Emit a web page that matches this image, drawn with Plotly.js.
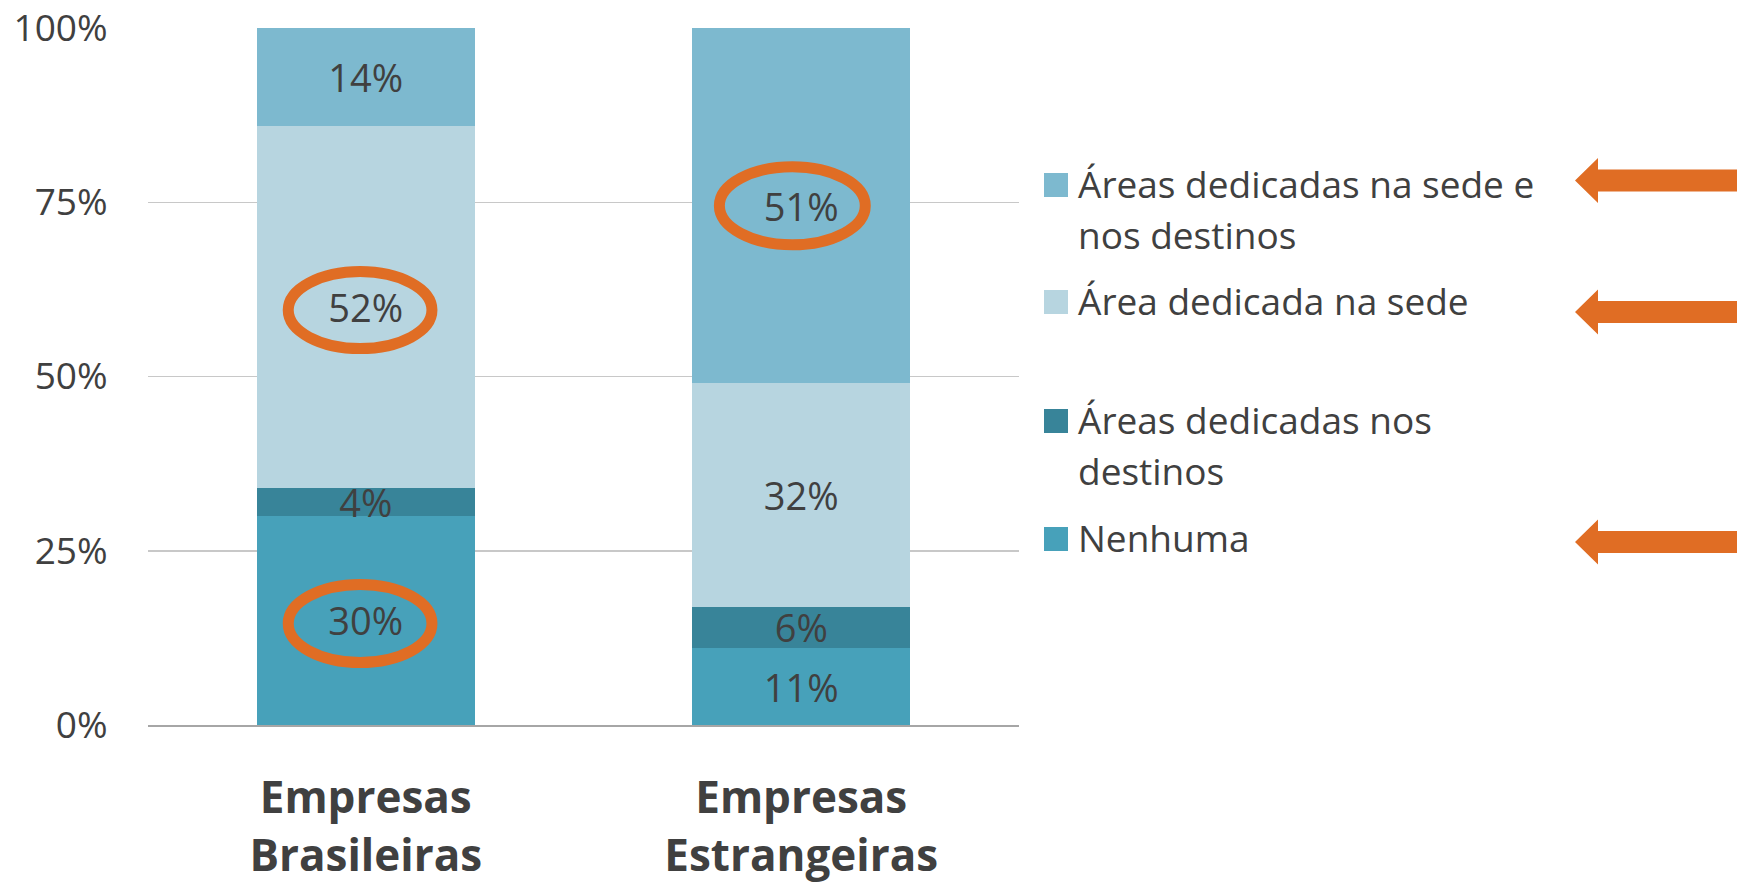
<!DOCTYPE html>
<html>
<head>
<meta charset="utf-8">
<script src="https://cdn.plot.ly/plotly-3.0.1.min.js"></script>
<style>
  html, body { margin: 0; padding: 0; background: #ffffff; }
  #chart { width: 1746px; height: 884px; }
</style>
</head>
<body>
<div id="chart"></div>
<script>
// ---- data ----
const categories = ['Empresas<br>Brasileiras', 'Empresas<br>Estrangeiras'];
const seriesNames = ['Nenhuma', 'Áreas dedicadas nos destinos', 'Área dedicada na sede', 'Áreas dedicadas na sede e nos destinos'];
const legendLines = [['Nenhuma'], ['Áreas dedicadas nos', 'destinos'], ['Área dedicada na sede'], ['Áreas dedicadas na sede e', 'nos destinos']];
const nenhuma = [30, 11];
const destinos = [4, 6];
const sede = [52, 32];
const sedeEDestinos = [14, 51];
const seriesColors = ['#47A1BA', '#388499', '#B7D5E0', '#7DB9CF'];
const yTicks = [0, 25, 50, 75, 100];

// ---- layout helpers (pixel -> paper) ----
const W = 1746, H = 884;
const L = 148, R = 1019, T = 28, B = 725;
const px = x => (x - L) / (R - L);
const py = y => (B - y) / (B - T);
const FONT = '"Open Sans", sans-serif';

const values = [nenhuma, destinos, sede, sedeEDestinos];
const traces = values.map((v, i) => ({
  type: 'bar',
  name: seriesNames[i],
  x: categories,
  y: v,
  marker: { color: seriesColors[i], line: { width: 0 } },
  text: v.map(d => d + '%'),
  textposition: 'inside',
  insidetextanchor: 'middle',
  textangle: 0,
  constraintext: 'none',
  textfont: { family: FONT, size: 38, color: '#404040' },
  hoverinfo: 'skip',
  showlegend: false
}));

// ---- legend (drawn from the series arrays) ----
const legendOrder = [3, 2, 1, 0];          // top to bottom
const itemCenters = [185, 302, 421, 539];  // pixel y of symbol centres
const lineGap = 51;
const shapes = [];
const annotations = [];
legendOrder.forEach((s, k) => {
  const c = itemCenters[k];
  shapes.push({
    type: 'rect', xref: 'paper', yref: 'paper',
    x0: px(1044), x1: px(1068), y0: py(c + 12), y1: py(c - 12),
    fillcolor: seriesColors[s], line: { width: 0 }
  });
  legendLines[s].forEach((txt, j) => {
    annotations.push({
      xref: 'paper', yref: 'paper', x: px(1076), y: py(c - 2 + j * lineGap),
      xanchor: 'left', yanchor: 'middle', showarrow: false, text: txt,
      font: { family: FONT, size: 37, color: '#404040' }
    });
  });
});

// ---- emphasis ellipses ----
const orange = '#E06D24';
[[-0.178, 0.152, 54.0, 65.06], [-0.178, 0.152, 8.97, 20.16], [0.812, 1.147, 68.9, 80.1]].forEach(e => {
  shapes.push({
    type: 'circle', xref: 'x', yref: 'y',
    x0: e[0], x1: e[1], y0: e[2], y1: e[3],
    line: { color: orange, width: 11 }, fillcolor: 'rgba(0,0,0,0)', layer: 'above'
  });
});

// ---- arrows pointing at legend entries ----
[180.5, 312, 542].forEach(c => {
  const pts = [[1575, c], [1598, c - 22.5], [1598, c - 11], [1737, c - 11], [1737, c + 11], [1598, c + 11], [1598, c + 22.5]];
  const d = 'M ' + pts.map(p => px(p[0]) + ',' + py(p[1])).join(' L ') + ' Z';
  shapes.push({ type: 'path', xref: 'paper', yref: 'paper', path: d, fillcolor: orange, line: { width: 0 } });
});

const layout = {
  width: W, height: H,
  margin: { l: L, r: W - R, t: T, b: H - B, pad: 0 },
  paper_bgcolor: '#ffffff', plot_bgcolor: '#ffffff',
  barmode: 'stack',
  bargap: 0.5,
  showlegend: false,
  xaxis: {
    type: 'category',
    showgrid: false,
    showline: true, linecolor: '#A6A6A6', linewidth: 1.5,
    ticks: 'outside', ticklen: 34, tickcolor: 'rgba(0,0,0,0)',
    tickfont: { family: FONT, size: 44, color: '#404040', weight: 'bold' },
    fixedrange: true
  },
  yaxis: {
    range: [0, 100],
    tickvals: yTicks,
    ticktext: yTicks.map(t => t + '%'),
    showgrid: true, gridcolor: '#C8C8C8', gridwidth: 1.5,
    zeroline: false,
    ticks: 'outside', ticklen: 32, tickcolor: 'rgba(0,0,0,0)',
    tickfont: { family: FONT, size: 37, color: '#404040' },
    fixedrange: true
  },
  shapes: shapes,
  annotations: annotations,
  font: { family: FONT, color: '#404040' }
};

Plotly.newPlot('chart', traces, layout, { displayModeBar: false, staticPlot: true });
</script>
</body>
</html>
